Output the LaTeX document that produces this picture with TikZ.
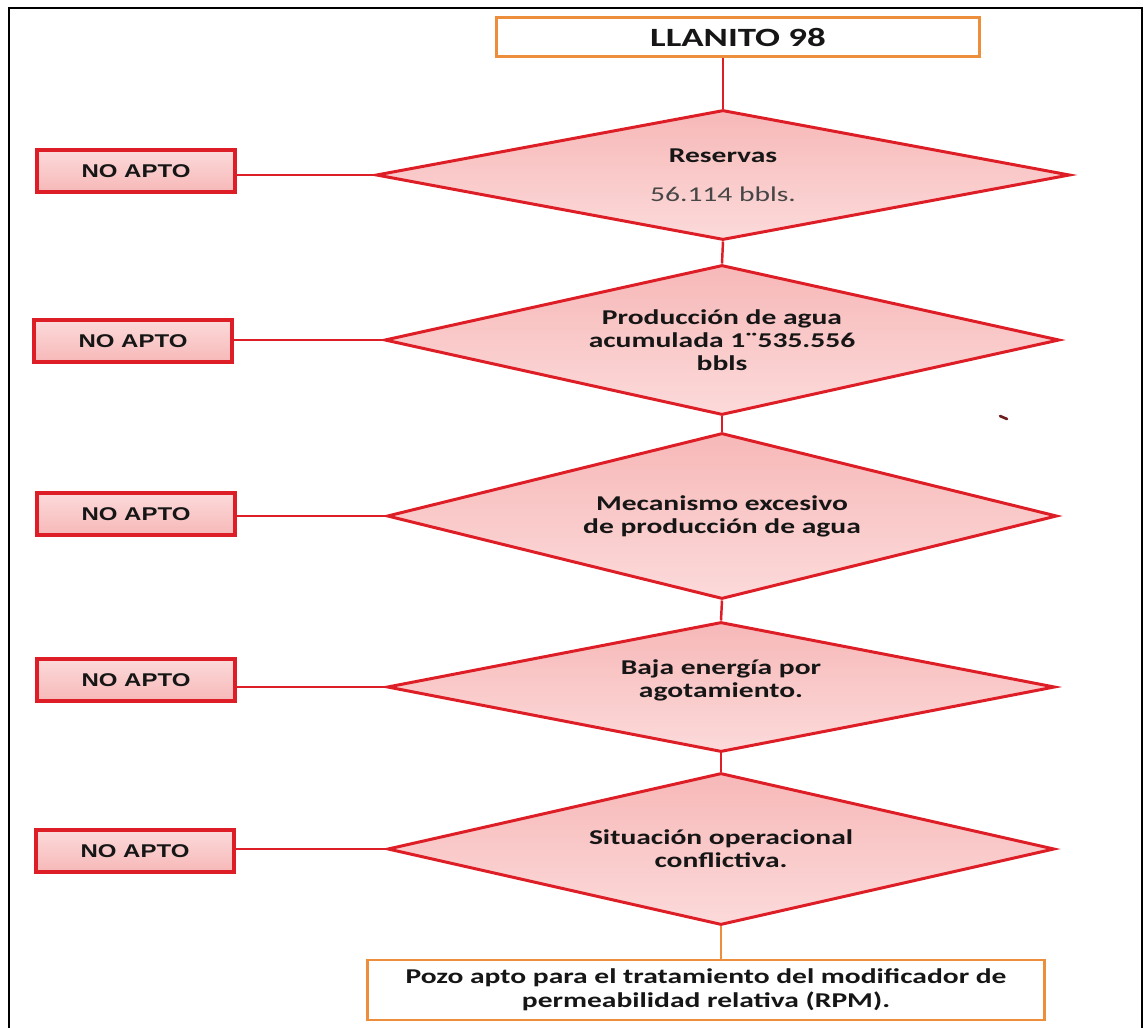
\documentclass[tikz,border=0pt]{standalone}
\usepackage{fontspec}
\usetikzlibrary{shapes.geometric}
\newfontfamily\calfont[FakeStretch=1.4]{Carlito}
\newfontfamily\arfont[FakeStretch=1.3]{Liberation Sans}
\definecolor{redl}{RGB}{222,30,38}
\definecolor{orl}{RGB}{236,142,60}
\definecolor{pinkA}{RGB}{247,184,184}
\definecolor{pinkB}{RGB}{252,218,218}
\definecolor{txt}{RGB}{22,22,22}
\definecolor{txtg}{RGB}{70,70,70}
\definecolor{speck}{RGB}{110,30,30}
\begin{document}
\begin{tikzpicture}[x=0.02cm,y=-0.02cm,
 dia/.style={diamond, draw=redl, line width=1.7pt, top color=pinkA, bottom color=pinkB, aspect=4.5, inner sep=0pt, align=center, text=txt, font=\calfont\bfseries\fontsize{12}{13}\selectfont},
 nobox/.style={rectangle, draw=redl, line width=1.8pt, top color=pinkB, bottom color=pinkA, minimum width=3.96cm, minimum height=0.84cm, inner sep=0pt, text=txt, font=\arfont\bfseries\fontsize{10.5}{11}\selectfont},
 obox/.style={rectangle, draw=orl, line width=1.6pt, fill=white, inner sep=0pt, align=center, text=txt, font=\calfont\bfseries\fontsize{12}{13.6}\selectfont},
 rline/.style={draw=redl, line width=1.4pt},
 oline/.style={draw=orl, line width=1.4pt}]
\useasboundingbox (0,0) rectangle (1144,1028);
\clip (0,0) rectangle (1144,1028);
\fill[white] (0,0) rectangle (1144,1028);
\draw[line width=1.4pt, black] (9,1040) -- (9,8) -- (1142,8) -- (1142,1040);

\node[obox, minimum width=9.66cm, minimum height=0.78cm, font=\calfont\bfseries\fontsize{15}{16}\selectfont] (top) at (738,37) {LLANITO 98};

\node[dia, minimum width=13.88cm, minimum height=2.6cm] (d1) at (723,175) {Reservas\\[9pt]{\mdseries\color{txtg}56.114 bbls.}};
\node[dia, minimum width=13.5cm, minimum height=3cm] (d2) at (722,340) {Producción de agua\\acumulada 1¨535.556\\bbls};
\node[dia, minimum width=13.4cm, minimum height=3.32cm] (d3) at (722,516) {Mecanismo excesivo\\de producción de agua};
\node[dia, minimum width=13.36cm, minimum height=2.6cm] (d4) at (721,687) {Baja energía por\\agotamiento.\\[-7pt]\strut};
\node[dia, minimum width=13.34cm, minimum height=3.04cm] (d5) at (721,849) {Situación operacional\\conflictiva.};

\node[obox, minimum width=13.54cm, minimum height=1.2cm] (fin) at (706,990) {Pozo apto para el tratamiento del modificador de\\permeabilidad relativa (RPM).};

\node[nobox] (n1) at (136,171) {NO APTO};
\node[nobox] (n2) at (133,341) {NO APTO};
\node[nobox] (n3) at (136,514) {NO APTO};
\node[nobox] (n4) at (136,680) {NO APTO};
\node[nobox] (n5) at (135,851) {NO APTO};

\draw[rline] (top.south -| d1.north) -- (d1.north);
\draw[rline] (d1.south) -- (d2.north);
\draw[rline] (d2.south) -- (d3.north);
\draw[rline] (d3.south) -- (d4.north);
\draw[rline] (d4.south) -- (d5.north);
\draw[oline] (d5.south) -- (d5.south |- fin.north);

\draw[rline] (n1.east |- d1.west) -- (d1.west);
\draw[rline] (n2.east |- d2.west) -- (d2.west);
\draw[rline] (n3.east |- d3.west) -- (d3.west);
\draw[rline] (n4.east |- d4.west) -- (d4.west);
\draw[rline] (n5.east |- d5.west) -- (d5.west);

\draw[line width=1.5pt, speck, line cap=round] (1000,416) -- (1007,419);
\end{tikzpicture}
\end{document}
